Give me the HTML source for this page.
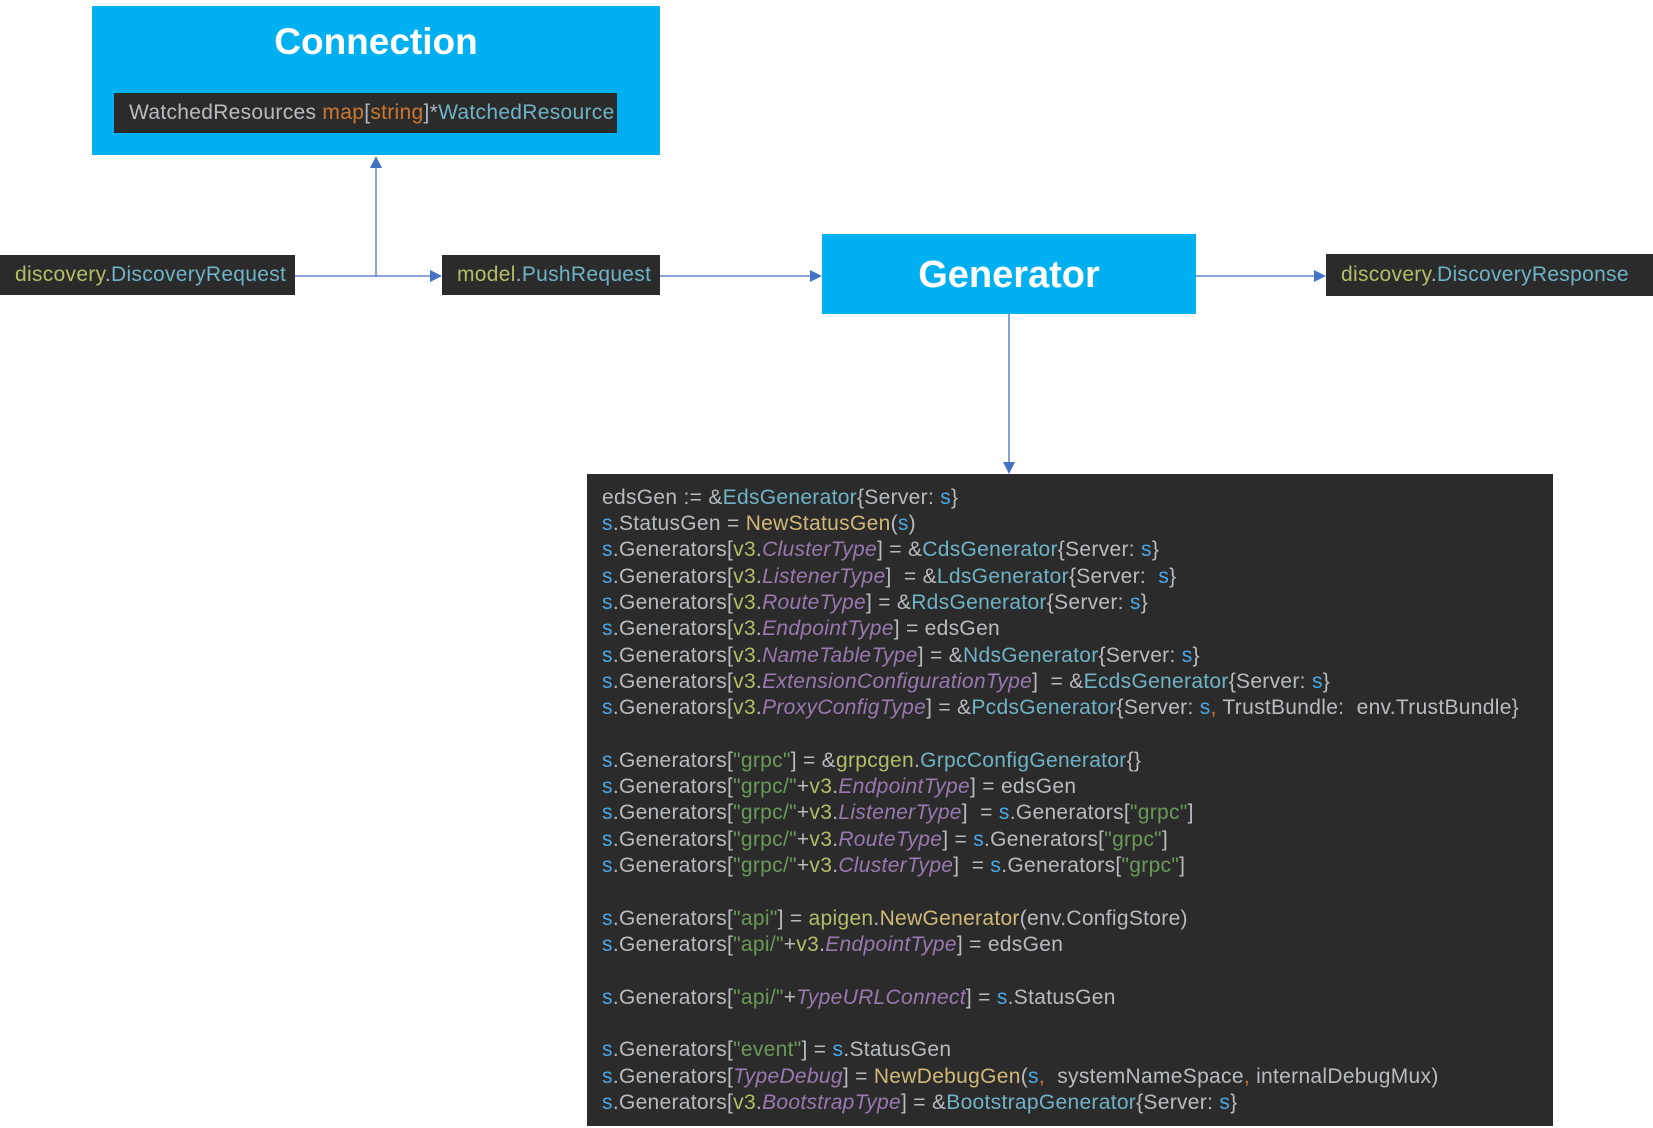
<!DOCTYPE html>
<html><head><meta charset="utf-8"><style>
body{margin:0;width:1653px;height:1128px;background:#fff;position:relative;overflow:hidden;font-family:"Liberation Sans",Arial,sans-serif}
.a{position:absolute}
.blue{background:#00b0f0;color:#fff;font-weight:bold;text-align:center}
.dk{background:#2b2b2b;color:#a9b7c6;font-size:21px;letter-spacing:0.3px;line-height:40px;white-space:nowrap}
.y{color:#b5bd68}.t{color:#6fb3c6}.o{color:#cc7832}.s{color:#4aa8e8}.f{color:#d0b978}.p{color:#9a78b0;font-style:italic}.g{color:#6a9a59}.w{color:#b8bcc0}
.code{position:absolute;left:587px;top:474px;width:966px;height:652px;background:#2b2b2b;color:#b8bcc0;font-size:21px;letter-spacing:0.3px}
.code div{position:absolute;left:15px;white-space:pre;line-height:26px}
</style></head><body>
<div class="a blue" style="left:92px;top:6px;width:568px;height:149px;font-size:37px;line-height:72px">Connection</div>
<div class="a dk" style="left:114px;top:93px;width:503px;height:40px;padding-left:15px;box-sizing:border-box"><span class="w">WatchedResources</span> <span class="o">map</span>[<span class="o">string</span>]*<span class="t">WatchedResource</span></div>
<div class="a dk" style="left:0;top:255px;width:295px;height:40px;padding-left:15px;box-sizing:border-box"><span class="y">discovery</span>.<span class="t">DiscoveryRequest</span></div>
<div class="a dk" style="left:442px;top:255px;width:218px;height:40px;padding-left:15px;box-sizing:border-box"><span class="y">model</span>.<span class="t">PushRequest</span></div>
<div class="a blue" style="left:822px;top:234px;width:374px;height:80px;font-size:38px;line-height:82px">Generator</div>
<div class="a dk" style="left:1326px;top:254px;width:327px;height:42px;line-height:42px;padding-left:15px;box-sizing:border-box"><span class="y">discovery</span>.<span class="t">DiscoveryResponse</span></div>
<svg class="a" style="left:0;top:0" width="1653" height="1128">
<g stroke="#4472c4" stroke-width="1.3" fill="none">
<line x1="295" y1="276" x2="432" y2="276"/>
<line x1="376" y1="276" x2="376" y2="166"/>
<line x1="660" y1="276" x2="812" y2="276"/>
<line x1="1196" y1="276" x2="1316" y2="276"/>
<line x1="1009" y1="314" x2="1009" y2="464"/>
</g>
<g fill="#4472c4">
<polygon points="442,276 430,270 430,282"/>
<polygon points="376,156 370,168 382,168"/>
<polygon points="822,276 810,270 810,282"/>
<polygon points="1326,276 1314,270 1314,282"/>
<polygon points="1009,474 1003,462 1015,462"/>
</g></svg>
<div class="code">
<div style="top:11px">edsGen := &amp;<span class="t">EdsGenerator</span>{Server: <span class="s">s</span>}</div>
<div style="top:37px"><span class="s">s</span>.StatusGen = <span class="f">NewStatusGen</span>(<span class="s">s</span>)</div>
<div style="top:63px"><span class="s">s</span>.Generators[<span class="y">v3</span>.<span class="p">ClusterType</span>] = &amp;<span class="t">CdsGenerator</span>{Server: <span class="s">s</span>}</div>
<div style="top:90px"><span class="s">s</span>.Generators[<span class="y">v3</span>.<span class="p">ListenerType</span>]  = &amp;<span class="t">LdsGenerator</span>{Server:  <span class="s">s</span>}</div>
<div style="top:116px"><span class="s">s</span>.Generators[<span class="y">v3</span>.<span class="p">RouteType</span>] = &amp;<span class="t">RdsGenerator</span>{Server: <span class="s">s</span>}</div>
<div style="top:142px"><span class="s">s</span>.Generators[<span class="y">v3</span>.<span class="p">EndpointType</span>] = edsGen</div>
<div style="top:169px"><span class="s">s</span>.Generators[<span class="y">v3</span>.<span class="p">NameTableType</span>] = &amp;<span class="t">NdsGenerator</span>{Server: <span class="s">s</span>}</div>
<div style="top:195px"><span class="s">s</span>.Generators[<span class="y">v3</span>.<span class="p">ExtensionConfigurationType</span>]  = &amp;<span class="t">EcdsGenerator</span>{Server: <span class="s">s</span>}</div>
<div style="top:221px"><span class="s">s</span>.Generators[<span class="y">v3</span>.<span class="p">ProxyConfigType</span>] = &amp;<span class="t">PcdsGenerator</span>{Server: <span class="s">s</span><span class="o">,</span> TrustBundle:  env.TrustBundle}</div>
<div style="top:274px"><span class="s">s</span>.Generators[<span class="g">"grpc"</span>] = &amp;<span class="y">grpcgen</span>.<span class="t">GrpcConfigGenerator</span>{}</div>
<div style="top:300px"><span class="s">s</span>.Generators[<span class="g">"grpc/"</span>+<span class="y">v3</span>.<span class="p">EndpointType</span>] = edsGen</div>
<div style="top:326px"><span class="s">s</span>.Generators[<span class="g">"grpc/"</span>+<span class="y">v3</span>.<span class="p">ListenerType</span>]  = <span class="s">s</span>.Generators[<span class="g">"grpc"</span>]</div>
<div style="top:353px"><span class="s">s</span>.Generators[<span class="g">"grpc/"</span>+<span class="y">v3</span>.<span class="p">RouteType</span>] = <span class="s">s</span>.Generators[<span class="g">"grpc"</span>]</div>
<div style="top:379px"><span class="s">s</span>.Generators[<span class="g">"grpc/"</span>+<span class="y">v3</span>.<span class="p">ClusterType</span>]  = <span class="s">s</span>.Generators[<span class="g">"grpc"</span>]</div>
<div style="top:432px"><span class="s">s</span>.Generators[<span class="g">"api"</span>] = <span class="y">apigen</span>.<span class="f">NewGenerator</span>(env.ConfigStore)</div>
<div style="top:458px"><span class="s">s</span>.Generators[<span class="g">"api/"</span>+<span class="y">v3</span>.<span class="p">EndpointType</span>] = edsGen</div>
<div style="top:511px"><span class="s">s</span>.Generators[<span class="g">"api/"</span>+<span class="p">TypeURLConnect</span>] = <span class="s">s</span>.StatusGen</div>
<div style="top:563px"><span class="s">s</span>.Generators[<span class="g">"event"</span>] = <span class="s">s</span>.StatusGen</div>
<div style="top:590px"><span class="s">s</span>.Generators[<span class="p">TypeDebug</span>] = <span class="f">NewDebugGen</span>(<span class="s">s</span><span class="o">,</span>  systemNameSpace<span class="o">,</span> internalDebugMux)</div>
<div style="top:616px"><span class="s">s</span>.Generators[<span class="y">v3</span>.<span class="p">BootstrapType</span>] = &amp;<span class="t">BootstrapGenerator</span>{Server: <span class="s">s</span>}</div>
</div>
</body></html>
